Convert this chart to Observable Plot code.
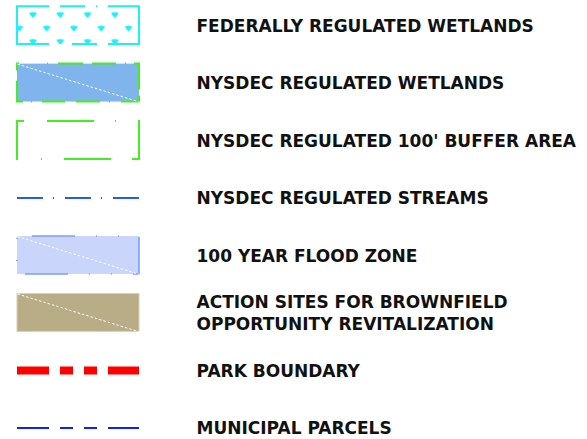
<!DOCTYPE html>
<html>
<head>
<meta charset="utf-8">
<script src="https://cdn.jsdelivr.net/npm/d3@7"></script>
<script src="https://cdn.jsdelivr.net/npm/@observablehq/plot@0.6"></script>
<style>
  html, body { margin: 0; padding: 0; background: #fff; }
  svg { display: block; }
</style>
</head>
<body>
<script>
// Legend entries (top to bottom)
const labels = [
  "FEDERALLY REGULATED WETLANDS",
  "NYSDEC REGULATED WETLANDS",
  "NYSDEC REGULATED 100' BUFFER AREA",
  "NYSDEC REGULATED STREAMS",
  "100 YEAR FLOOD ZONE",
  "ACTION SITES FOR BROWNFIELD\nOPPORTUNITY REVITALIZATION",
  "PARK BOUNDARY",
  "MUNICIPAL PARCELS"
];
// Symbol type of each entry
const kinds = ["marsh", "wetland", "buffer", "stream", "flood", "brownfield", "park", "parcel"];

const rows = labels.map((label, i) => ({label, kind: kinds[i], row: i}));
const ofKind = k => rows.filter(d => d.kind === k);

const HALF = 0.33; // half height of area swatches, in row units
const swTop = d => d.row - HALF, swBot = d => d.row + HALF;

const areaStyles = {
  marsh:      {fill: "url(#marsh)", stroke: "#1cf0f8", strokeWidth: 2,
               strokeDasharray: "32 11 25 11 1 11 100 11 25 23 70"},
  wetland:    {fill: "#80b4ec", stroke: "#44ee22", strokeWidth: 2,
               strokeDasharray: "2 28 1 10 25 9 24 9 1 8 31 6 24 11 1 9 24 11 23 10 1 8 27 10 7"},
  buffer:     {fill: "none", stroke: "#44ee22", strokeWidth: 2,
               strokeDasharray: "7 23 47 21 1 22 46 21 47 22 1 23 39"},
  flood:      {fill: "#c9d5fb", stroke: "#7c9cff", strokeWidth: 1.6,
               strokeDasharray: "43 21 1 21 1 21", strokeDashoffset: 93},
  brownfield: {fill: "#b8ad86", stroke: "#d9d1b3", strokeWidth: 1}
};
const lineStyles = {
  stream: {stroke: "#1f5cff", strokeWidth: 2, strokeDasharray: "26 10 1 11"},
  park:   {stroke: "#ff0000", strokeWidth: 8, strokeDasharray: "32 11 13 11 13 11"},
  parcel: {stroke: "#1020ff", strokeWidth: 2, strokeDasharray: "32 11 13 11 13 11"}
};

const marks = [];
for (const k of Object.keys(areaStyles)) {
  marks.push(Plot.rect(ofKind(k), {x1: 0, x2: 1, y1: swTop, y2: swBot, ...areaStyles[k]}));
}
marks.push(Plot.link(rows.filter(d => ["wetland", "flood", "brownfield"].includes(d.kind)), {
  x1: 0, x2: 1, y1: swTop, y2: swBot, stroke: "#ffffff", strokeWidth: 1, strokeDasharray: "2.5 2"
}));
for (const k of Object.keys(lineStyles)) {
  marks.push(Plot.ruleY(ofKind(k), {y: "row", x1: 0, x2: 1, ...lineStyles[k]}));
}
marks.push(Plot.text(rows, {
  x: 1, y: "row", text: "label", dx: 57, dy: -1, textAnchor: "start",
  fontSize: 17, fontWeight: "bold", fontFamily: "DejaVu Sans", fill: "#111", lineHeight: 1.32
}));

const chart = Plot.plot({
  width: 587, height: 439,
  marginTop: 0, marginRight: 0, marginBottom: 0, marginLeft: 0,
  x: {domain: [0, 1], range: [17, 139], axis: null},
  y: {domain: [0, labels.length - 1], range: [25.1, 427.4], axis: null},
  style: {background: "#fff", overflow: "visible"},
  marks
});

// Marsh symbol fill pattern
const svg = d3.select(chart);
const defs = svg.insert("defs", ":first-child");
const pat = defs.append("pattern").attr("id", "marsh")
  .attr("patternUnits", "userSpaceOnUse")
  .attr("width", 27.3).attr("height", 27)
  .attr("x", -1.1).attr("y", 8.25);
pat.append("rect").attr("width", 27.3).attr("height", 27).attr("fill", "#fff");
for (const [cx, cy] of [[6.8, 6.75], [20.45, 20.25]]) {
  pat.append("path")
    .attr("transform", `translate(${cx},${cy})`)
    .attr("d", "M-2.8,-1.6 L0,2 L2.8,-1.6 Z M0,-3 V2.4")
    .attr("fill", "#1cf0f8").attr("stroke", "#1cf0f8").attr("stroke-width", 1.6)
    .attr("stroke-linejoin", "round");
}

document.body.appendChild(chart);
</script>
</body>
</html>
